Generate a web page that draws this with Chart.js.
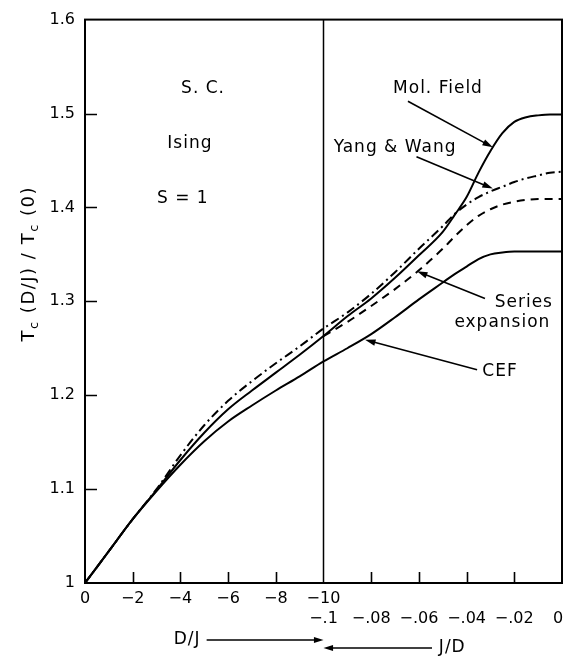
<!DOCTYPE html>
<html>
<head>
<meta charset="utf-8">
<title>Tc(D/J) / Tc(0) - S.C. Ising S=1</title>
<script src="https://cdn.jsdelivr.net/npm/chart.js@4.4.1/dist/chart.umd.min.js"></script>
<style>
    html, body { margin: 0; padding: 0; background: #fff; }
    #chart { display: block; }
</style>
</head>
<body>
<canvas id="chart" width="564" height="657"></canvas>
<script>
// Left half of the axis: D/J from 0 to -10
const djValues = [0, -1, -2, -3, -4, -5, -6, -7, -8, -9, -10];
const molFieldDJ = [1.000, 1.034, 1.068, 1.099, 1.131, 1.160, 1.185, 1.205, 1.224, 1.243, 1.263];
const yangWangDJ = [1.000, 1.034, 1.068, 1.100, 1.136, 1.168, 1.194, 1.215, 1.234, 1.252, 1.271];
const cefDJ = [1.000, 1.034, 1.068, 1.098, 1.126, 1.151, 1.172, 1.189, 1.205, 1.220, 1.236];

// Right half of the axis: J/D from -0.1 to 0
const jdValues = [-0.1, -0.09, -0.08, -0.07, -0.06, -0.05, -0.045, -0.04, -0.035, -0.03, -0.025, -0.02, -0.015, -0.01, -0.005, 0];
const molFieldJD = [1.263, 1.284, 1.303, 1.325, 1.349, 1.374, 1.392, 1.411, 1.437, 1.460, 1.479, 1.491, 1.496, 1.498, 1.499, 1.499];
const yangWangJD = [1.271, 1.288, 1.308, 1.331, 1.356, 1.380, 1.393, 1.403, 1.411, 1.417, 1.422, 1.427, 1.431, 1.434, 1.437, 1.438];
const seriesJD = [1.263, 1.278, 1.295, 1.313, 1.333, 1.356, 1.369, 1.381, 1.391, 1.398, 1.403, 1.406, 1.408, 1.409, 1.409, 1.409];
const cefJD = [1.236, 1.250, 1.265, 1.283, 1.302, 1.320, 1.329, 1.337, 1.345, 1.350, 1.352, 1.353, 1.353, 1.353, 1.353, 1.353];

// Axis ticks (position units: 0..10 is D/J, 10..20 is J/D)
const xTickPositions = [0, 2, 4, 6, 8, 10, 12, 14, 16, 18, 20];
const yTicks = [1, 1.1, 1.2, 1.3, 1.4, 1.5, 1.6];

// Labels placed in data units
const noteTexts = [
    { text: 'S. C.', x: 4.95, y: 1.527 },
    { text: 'Ising', x: 4.4, y: 1.468 },
    { text: 'S = 1', x: 4.1, y: 1.409 },
    { text: 'Mol. Field', x: 14.8, y: 1.527 },
    { text: 'Yang & Wang', x: 13.0, y: 1.464 },
    { text: 'Series', x: 18.4, y: 1.299 },
    { text: 'expansion', x: 17.5, y: 1.277 },
    { text: 'CEF', x: 17.4, y: 1.225 }
];
const noteArrows = [
    { from: [13.54, 1.513], to: [17.1, 1.464] },
    { from: [13.9, 1.454], to: [17.1, 1.420] },
    { from: [16.77, 1.303], to: [13.92, 1.332] },
    { from: [16.44, 1.227], to: [11.74, 1.259] }
];

const FONT = '"DejaVu Sans", sans-serif';

/**
 * Map a D/J value to axis position
 */
function posFromDJ(d) {
    return -d;
}

/**
 * Map a J/D value to axis position
 */
function posFromJD(j) {
    return 10 + (j + 0.1) * 100;
}

function buildPoints(djList, djVals, jdList, jdVals) {
    const pts = [];
    if (djList) {
        djList.forEach((d, i) => pts.push({ x: posFromDJ(d), y: djVals[i] }));
    }
    if (jdList) {
        jdList.forEach((j, i) => {
            if (djList && i === 0) return; // shared point at the join
            pts.push({ x: posFromJD(j), y: jdVals[i] });
        });
    }
    return pts;
}

function tickLabel(p) {
    if (p === 10) return ['\u221210', '\u2212.1'];
    if (p < 10) return [p === 0 ? '0' : '\u2212' + p, ''];
    const j = (p - 10) / 100 - 0.1;
    if (Math.abs(j) < 1e-9) return ['', '0\u2002'];
    return ['', '\u2212' + Math.abs(j).toFixed(2).replace(/^0/, '')];
}

function drawArrow(ctx, x1, y1, x2, y2, head) {
    const ang = Math.atan2(y2 - y1, x2 - x1);
    ctx.beginPath();
    ctx.moveTo(x1, y1);
    ctx.lineTo(x2 - Math.cos(ang) * head * 0.8, y2 - Math.sin(ang) * head * 0.8);
    ctx.stroke();
    ctx.beginPath();
    ctx.moveTo(x2, y2);
    ctx.lineTo(x2 - head * Math.cos(ang - 0.3), y2 - head * Math.sin(ang - 0.3));
    ctx.lineTo(x2 - head * Math.cos(ang + 0.3), y2 - head * Math.sin(ang + 0.3));
    ctx.closePath();
    ctx.fill();
}

// Frame, inward ticks, notes, arrows and axis titles
const overlay = {
    id: 'overlay',
    afterDraw(chart) {
        const { ctx, chartArea: area, scales: { x, y } } = chart;
        ctx.save();
        ctx.strokeStyle = '#000';
        ctx.fillStyle = '#000';
        ctx.lineCap = 'butt';

        // Frame
        ctx.lineWidth = 2;
        ctx.strokeRect(area.left, area.top, area.right - area.left, area.bottom - area.top);

        // Inward tick marks
        ctx.lineWidth = 1.6;
        ctx.beginPath();
        yTicks.forEach(v => {
            if (v <= 1 || v >= 1.6) return;
            const py = Math.round(y.getPixelForValue(v)) + 0.5;
            ctx.moveTo(area.left, py);
            ctx.lineTo(area.left + 12, py);
        });
        xTickPositions.forEach(p => {
            if (p === 0 || p === 10 || p === 20) return;
            const px = Math.round(x.getPixelForValue(p)) + 0.5;
            ctx.moveTo(px, area.bottom);
            ctx.lineTo(px, area.bottom - 11);
        });
        ctx.stroke();

        // Notes
        ctx.font = '17px ' + FONT;
        ctx.letterSpacing = '1px';
        ctx.textAlign = 'center';
        ctx.textBaseline = 'middle';
        noteTexts.forEach(n => {
            ctx.fillText(n.text, x.getPixelForValue(n.x), y.getPixelForValue(n.y));
        });

        // Note arrows
        ctx.lineWidth = 1.6;
        noteArrows.forEach(a => {
            drawArrow(ctx,
                x.getPixelForValue(a.from[0]), y.getPixelForValue(a.from[1]),
                x.getPixelForValue(a.to[0]), y.getPixelForValue(a.to[1]), 11);
        });

        // D/J and J/D direction arrows below the axis
        const yDJ = area.bottom + 57;
        const yJD = area.bottom + 65;
        ctx.fillText('D/J', x.getPixelForValue(4.28), yDJ);
        ctx.lineWidth = 1.4;
        drawArrow(ctx, x.getPixelForValue(5.1), yDJ, x.getPixelForValue(10), yDJ, 10);
        drawArrow(ctx, x.getPixelForValue(14.55), yJD, x.getPixelForValue(10), yJD, 10);
        ctx.fillText('J/D', x.getPixelForValue(15.4), yJD);

        // Y axis title with subscripts, centred on value 1.34
        const parts = [
            { t: 'T', sub: false }, { t: 'c', sub: true },
            { t: ' (D/J) / T', sub: false }, { t: 'c', sub: true },
            { t: ' (0)', sub: false }
        ];
        const mainFont = '18px ' + FONT;
        const subFont = '13px ' + FONT;
        ctx.letterSpacing = '1.5px';
        let total = 0;
        parts.forEach(p => {
            ctx.font = p.sub ? subFont : mainFont;
            p.w = ctx.measureText(p.t).width;
            total += p.w;
        });
        ctx.translate(29, y.getPixelForValue(1.34));
        ctx.rotate(-Math.PI / 2);
        ctx.textAlign = 'left';
        let cx = -total / 2;
        parts.forEach(p => {
            ctx.font = p.sub ? subFont : mainFont;
            ctx.fillText(p.t, cx, p.sub ? 6 : 0);
            cx += p.w;
        });

        ctx.restore();
    }
};

const lineStyle = {
    borderColor: '#000',
    borderWidth: 2,
    pointRadius: 0,
    fill: false,
    cubicInterpolationMode: 'monotone'
};

new Chart(document.getElementById('chart'), {
    type: 'line',
    data: {
        datasets: [
            Object.assign({ label: 'Mol. Field', data: buildPoints(djValues, molFieldDJ, jdValues, molFieldJD) }, lineStyle),
            Object.assign({ label: 'Yang & Wang', data: buildPoints(djValues, yangWangDJ, jdValues, yangWangJD), borderDash: [9, 4, 2, 4] }, lineStyle),
            Object.assign({ label: 'Series expansion', data: buildPoints(null, null, jdValues, seriesJD), borderDash: [8, 6] }, lineStyle),
            Object.assign({ label: 'CEF', data: buildPoints(djValues, cefDJ, jdValues, cefJD) }, lineStyle),
            {
                label: 'divider',
                data: [{ x: 10, y: 1 }, { x: 10, y: 1.6 }],
                borderColor: '#000',
                borderWidth: 1.5,
                pointRadius: 0
            }
        ]
    },
    options: {
        responsive: false,
        animation: false,
        devicePixelRatio: 1,
        layout: { padding: { top: 14, right: 2, left: 0, bottom: 0 } },
        plugins: {
            legend: { display: false },
            tooltip: { enabled: false }
        },
        scales: {
            x: {
                type: 'linear',
                min: 0,
                max: 20,
                grid: { display: false, drawTicks: false },
                border: { display: false },
                afterBuildTicks: scale => {
                    scale.ticks = xTickPositions.map(v => ({ value: v }));
                },
                afterFit: scale => {
                    scale.height = 74;
                    scale.paddingLeft = 0;
                    scale.paddingRight = 0;
                },
                ticks: {
                    autoSkip: false,
                    maxRotation: 0,
                    padding: 5,
                    color: '#000',
                    font: { family: FONT, size: 16, lineHeight: 1.3 },
                    callback: value => tickLabel(value)
                }
            },
            y: {
                type: 'linear',
                min: 1,
                max: 1.6,
                grid: { display: false, drawTicks: false },
                border: { display: false },
                afterBuildTicks: scale => {
                    scale.ticks = yTicks.map(v => ({ value: v }));
                },
                afterFit: scale => {
                    scale.width = 85;
                },
                ticks: {
                    padding: 10,
                    color: '#000',
                    font: { family: FONT, size: 16 },
                    callback: value => (value === 1 ? '1' : value.toFixed(1))
                }
            }
        }
    },
    plugins: [overlay]
});
</script>
</body>
</html>
